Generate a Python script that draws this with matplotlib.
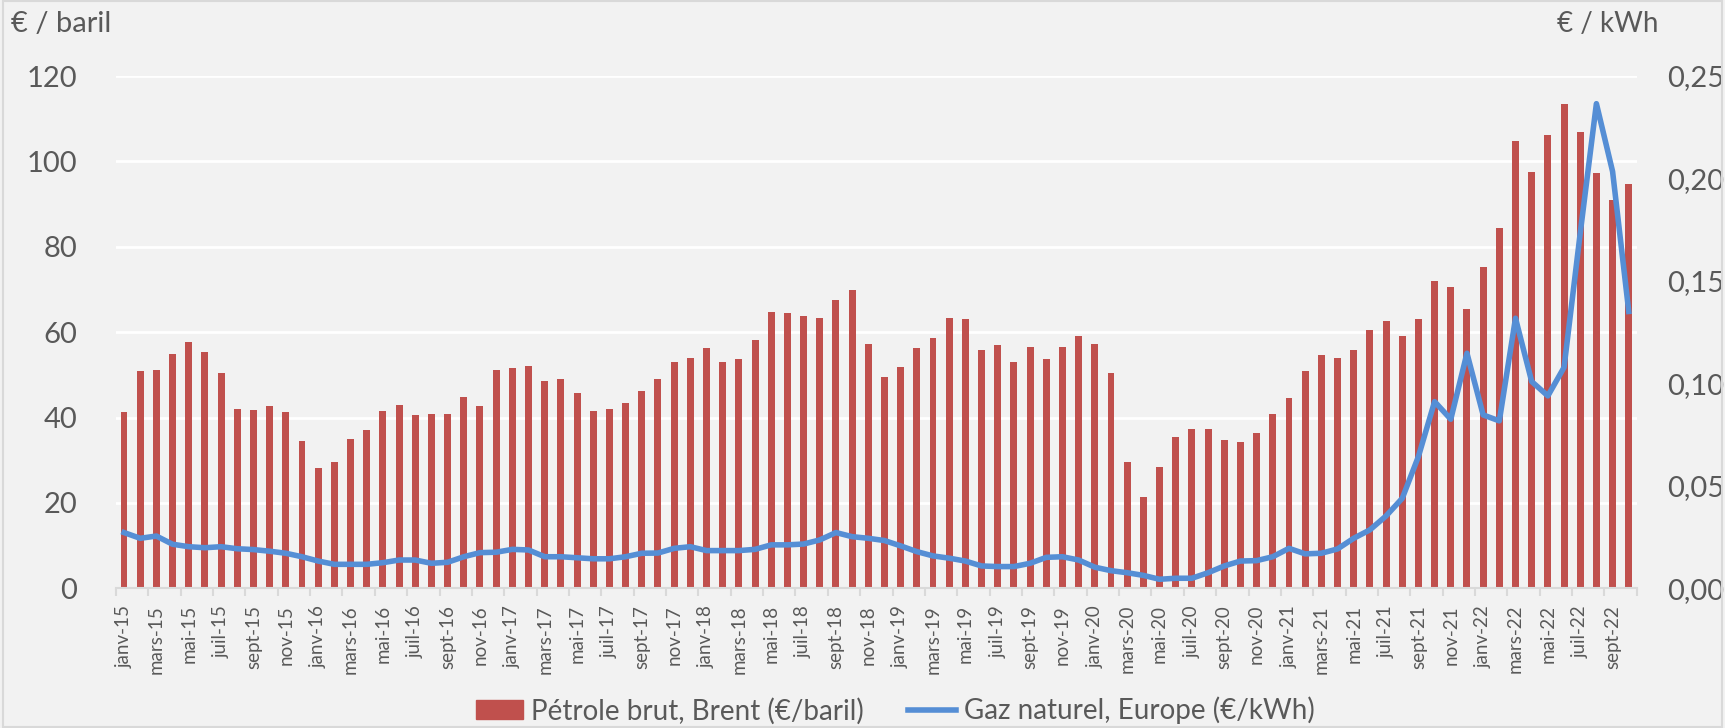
import numpy as np
import matplotlib
matplotlib.use("Agg")
import matplotlib.pyplot as plt
from matplotlib.lines import Line2D
from matplotlib.patches import Patch

plt.rcParams['font.family'] = ['Lato', 'DejaVu Sans']

# monthly values, janv-15 .. oct-22
brent = [
    41.2, 50.8, 51.2, 54.9, 57.6, 55.4, 50.5, 42.0, 41.8, 42.7, 41.2, 34.5,   # 2015
    28.1, 29.7, 34.9, 37.0, 41.6, 43.0, 40.5, 40.9, 40.9, 44.8, 42.8, 51.1,   # 2016
    51.5, 52.0, 48.5, 49.1, 45.8, 41.6, 42.0, 43.4, 46.2, 49.0, 53.1, 54.0,   # 2017
    56.3, 53.0, 53.8, 58.2, 64.8, 64.4, 63.7, 63.3, 67.6, 69.9, 57.3, 49.4,   # 2018
    51.8, 56.3, 58.6, 63.3, 63.0, 55.8, 57.0, 53.1, 56.5, 53.6, 56.5, 59.1,   # 2019
    57.3, 50.4, 29.6, 21.4, 28.3, 35.4, 37.2, 37.2, 34.8, 34.3, 36.3, 40.9,   # 2020
    44.5, 51.0, 54.7, 54.0, 55.8, 60.4, 62.6, 59.2, 63.1, 71.9, 70.5, 65.4,   # 2021
    75.3, 84.3, 104.8, 97.6, 106.1, 113.4, 106.9, 97.2, 90.9, 94.7,           # 2022
]

gaz = [
    0.0272, 0.0244, 0.0255, 0.0215, 0.0203, 0.0198, 0.0203, 0.0193, 0.0189, 0.0181, 0.0171, 0.0154,
    0.0133, 0.0117, 0.0117, 0.0117, 0.0125, 0.0138, 0.0138, 0.0122, 0.0127, 0.0154, 0.0174, 0.0176,
    0.0190, 0.0187, 0.0154, 0.0154, 0.0149, 0.0144, 0.0144, 0.0154, 0.0171, 0.0172, 0.0195, 0.0203,
    0.0184, 0.0184, 0.0184, 0.0190, 0.0212, 0.0212, 0.0216, 0.0236, 0.0272, 0.0252, 0.0244, 0.0233,
    0.0207, 0.0179, 0.0158, 0.0147, 0.0133, 0.0109, 0.0106, 0.0106, 0.0122, 0.0151, 0.0154, 0.0138,
    0.0103, 0.0086, 0.0076, 0.0063, 0.0044, 0.0049, 0.0049, 0.0076, 0.0109, 0.0133, 0.0135, 0.0154,
    0.0195, 0.0168, 0.0171, 0.0192, 0.0244, 0.0285, 0.0353, 0.0439, 0.0643, 0.0911, 0.0825, 0.1147,
    0.0846, 0.0817, 0.1318, 0.1009, 0.0939, 0.1078, 0.1733, 0.2365, 0.2034, 0.1351,
]

mois = ['janv', 'mars', 'mai', 'juil', 'sept', 'nov']
annees = ['15', '16', '17', '18', '19', '20', '21', '22']
tick_labels = [f"{m}-{a}" for a in annees for m in mois][:47]

brent_label = "Pétrole brut, Brent (€/baril)"
gaz_label = "Gaz naturel, Europe (€/kWh)"

bg = '#f2f2f2'
txt = '#595959'
red = '#c0504d'
blue = '#558ed5'

fig = plt.figure(figsize=(17.25, 7.28), dpi=100, facecolor=bg)
fig.patches.append(plt.Rectangle((0.002, 0.002), 0.996, 0.996, transform=fig.transFigure,
                                 fill=False, edgecolor='#d9d9d9', lw=1.5))
ax = fig.add_axes([0.0672, 0.1919, 0.8817, 0.7037])
ax.set_facecolor(bg)

x = np.arange(len(brent))
ax.bar(x, brent, width=0.43, color=red, zorder=2)
ax.set_xlim(-0.5, len(brent) - 0.5)
ax.set_ylim(0, 120)
ax.set_yticks(range(0, 121, 20))
ax.yaxis.grid(True, color='white', lw=2, zorder=0)
ax.set_axisbelow(True)

ax.set_xticks(np.arange(0, len(brent), 2))
ax.set_xticklabels(tick_labels, rotation=90, fontsize=13.5, color=txt)
ax.set_xticks(np.arange(-0.5, len(brent), 2), minor=True)
ax.tick_params(axis='x', which='major', length=0, pad=12)
ax.tick_params(axis='x', which='minor', length=6, color='#d9d9d9', width=1.5)
ax.tick_params(axis='y', length=0, pad=28, labelsize=21, labelcolor=txt)

for s in ['top', 'right', 'left']:
    ax.spines[s].set_visible(False)
ax.spines['bottom'].set_color('#d9d9d9')
ax.spines['bottom'].set_linewidth(1.5)

ax2 = ax.twinx()
ax2.plot(x, gaz, color=blue, lw=4, solid_joinstyle='round', zorder=3)
ax2.set_ylim(0, 0.25)
ax2.set_yticks([0, 0.05, 0.10, 0.15, 0.20, 0.25])
ax2.set_yticklabels(['0,00', '0,05', '0,10', '0,15', '0,20', '0,25'])
ax2.tick_params(axis='y', length=0, pad=22, labelsize=21, labelcolor=txt)
for s in ['top', 'right', 'left', 'bottom']:
    ax2.spines[s].set_visible(False)

fig.text(0.0064, 0.967, "€ / baril", fontsize=21, color=txt, ha='left', va='center')
fig.text(0.9026, 0.967, "€ / kWh", fontsize=20, color=txt, ha='left', va='center')

handles = [Patch(facecolor=red, edgecolor=red), Line2D([0], [0], color=blue, lw=4)]
fig.legend(handles, [brent_label, gaz_label], loc='center', bbox_to_anchor=(0.519, 0.024),
           ncol=2, frameon=False, fontsize=20, labelcolor=txt, handlelength=1.7,
           handletextpad=0.3, columnspacing=1.6)

fig.savefig('out.png', dpi=100, facecolor=bg)
